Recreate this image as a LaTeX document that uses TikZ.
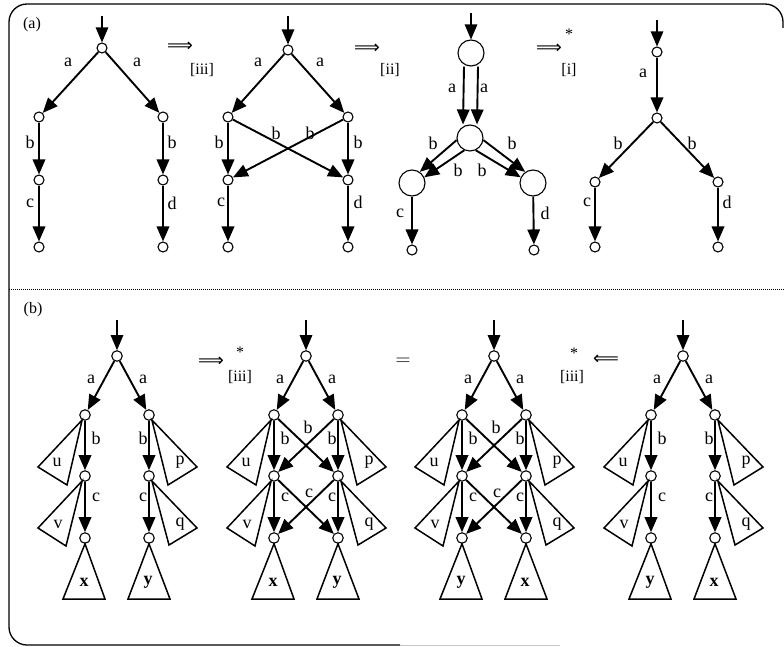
\documentclass[tikz,border=0pt]{standalone}
\usepackage{fontspec}
\setmainfont{Liberation Serif}
\newfontfamily\arrowfont{DejaVu Sans}
\usetikzlibrary{arrows.meta}

\newcommand{\mybtree}[4]{%
\begin{scope}[xshift=#2pt]
\coordinate (#1in) at (0,320);
\node[vb] (#1T) at (0,356) {};
\node[vb] (#1L1) at (-32,415) {};
\node[vb] (#1R1) at (32,415) {};
\node[vb] (#1L2) at (-32,476) {};
\node[vb] (#1R2) at (32,476) {};
\node[vb] (#1L3) at (-32,538) {};
\node[vb] (#1R3) at (32,538) {};
\draw[tri] (#1L1.240) -- (-79,467) -- (-50,485) -- cycle;
\draw[tri] (#1R1.300) -- (80,467) -- (51,485) -- cycle;
\draw[tri] (#1L2.240) -- (-79,528) -- (-51,546) -- cycle;
\draw[tri] (#1R2.300) -- (80,528) -- (52,545) -- cycle;
\draw[tri] (#1L3.south) -- (-54,599) -- (-12,599) -- cycle;
\draw[tri] (#1R3.south) -- (11,599) -- (53,599) -- cycle;
\node[lab] (#1lu) at (-60,462) {u};
\node[lab] (#1lp) at (63,462) {p};
\node[lab] (#1lv) at (-59,524) {v};
\node[lab] (#1lq) at (63,524) {q};
\node[lab] (#1lx) at (-33,582) {\textbf{#3}};
\node[lab] (#1ly) at (31,582) {\textbf{#4}};
\draw[inarr] (#1in) -- (#1T);
\draw[arr] (#1T) -- (#1L1);
\draw[arr] (#1T) -- (#1R1);
\draw[arr] (#1L1) -- (#1L2);
\draw[arr] (#1R1) -- (#1R2);
\draw[arr] (#1L2) -- (#1L3);
\draw[arr] (#1R2) -- (#1R3);
\node[lab] (#1la1) at (-26,379) {a};
\node[lab] (#1la2) at (26,379) {a};
\node[lab] (#1lb1) at (-21,438) {b};
\node[lab] (#1lb2) at (26,438) {b};
\node[lab] (#1lc1) at (-21,497) {c};
\node[lab] (#1lc2) at (26,497) {c};
\end{scope}}

\newcommand{\mybcross}[2]{%
\begin{scope}[xshift=#2pt]
\draw[arr] (#1L1) -- (#1R2);
\draw[arr] (#1R1) -- (#1L2);
\draw[arr] (#1L2) -- (#1R3);
\draw[arr] (#1R2) -- (#1L3);
\node[lab] (#1lbx) at (2,427) {b};
\node[lab] (#1lcx) at (3,493) {c};
\end{scope}}

\begin{document}
\begin{tikzpicture}[x=1pt,y=-1pt,
  every node/.style={font=\fontsize{18}{20}\selectfont},
  vert/.style={circle,draw,line width=1.1pt,minimum size=10pt,inner sep=0pt},
  vb/.style={vert,minimum size=10.5pt},
  big/.style={circle,draw,line width=1.1pt,minimum size=26pt,inner sep=0pt},
  arr/.style={line width=1.9pt,-{Triangle[length=15pt,width=12.5pt]}},
  inarr/.style={line width=1.2pt,-{Triangle[length=15pt,width=12.5pt]}},
  lab/.style={inner sep=0pt},
  sym/.style={inner sep=0pt,font=\arrowfont\fontsize{18}{20}\selectfont},
  sml/.style={inner sep=0pt,font=\fontsize{16}{18}\selectfont},
  tri/.style={draw,line width=1.5pt,line join=miter}
]
\useasboundingbox (0,0) rectangle (784,647);

% frame
\draw[line width=1.3pt, rounded corners=18pt] (783,28) -- (783,4) -- (9,4) -- (9,645) -- (400,645);
\draw[line width=1pt, gray!45] (400,645) -- (560,645);
\draw[line width=0.8pt, dash pattern=on 1pt off 1pt] (9,289) -- (784,289);
\node[sml] (tA) at (32,25) {(a)};
\node[sml] (tB) at (33,310) {(b)};

% ---------- A1
\coordinate (a1i) at (102,16);
\node[vert] (a1t) at (102,48) {};
\node[vert] (a1l1) at (39,117) {};
\node[vert] (a1r1) at (163,117) {};
\node[vert] (a1l2) at (39,180) {};
\node[vert] (a1r2) at (163,180) {};
\node[vert] (a1l3) at (39,247) {};
\node[vert] (a1r3) at (163,247) {};
\draw[inarr] (a1i) -- (a1t);
\draw[arr] (a1t) -- (a1l1);
\draw[arr] (a1t) -- (a1r1);
\draw[arr] (a1l1) -- (a1l2);
\draw[arr] (a1r1) -- (a1r2);
\draw[arr] (a1l2) -- (a1l3);
\draw[arr] (a1r2) -- (a1r3);
\node[lab] (a1la) at (68,62) {a};
\node[lab] (a1lb) at (137,62) {a};
\node[lab] (a1lc) at (30,142) {b};
\node[lab] (a1ld) at (172,142) {b};
\node[lab] (a1le) at (30,203) {c};
\node[lab] (a1lf) at (172,203) {d};

\node[sym] (s1) at (180,47) {⟹};
\node[sml] (s1l) at (202,70) {[iii]};

% ---------- A2
\coordinate (a2i) at (288,16);
\node[vert] (a2t) at (288,50) {};
\node[vert] (a2l1) at (228,117) {};
\node[vert] (a2r1) at (348,117) {};
\node[vert] (a2l2) at (228,180) {};
\node[vert] (a2r2) at (348,180) {};
\node[vert] (a2l3) at (228,247) {};
\node[vert] (a2r3) at (348,247) {};
\draw[inarr] (a2i) -- (a2t);
\draw[arr] (a2t) -- (a2l1);
\draw[arr] (a2t) -- (a2r1);
\draw[arr] (a2l1) -- (a2l2);
\draw[arr] (a2r1) -- (a2r2);
\draw[arr] (a2l1) -- (a2r2);
\draw[arr] (a2r1) -- (a2l2);
\draw[arr] (a2l2) -- (a2l3);
\draw[arr] (a2r2) -- (a2r3);
\node[lab] (a2la) at (258,62) {a};
\node[lab] (a2lb) at (320,62) {a};
\node[lab] (a2lc) at (219,142) {b};
\node[lab] (a2ld) at (276,133) {b};
\node[lab] (a2le) at (310,133) {b};
\node[lab] (a2lf) at (358,142) {b};
\node[lab] (a2lg) at (221,202) {c};
\node[lab] (a2lh) at (358,202) {d};

\node[sym] (s2) at (367,49) {⟹};
\node[sml] (s2l) at (390,70) {[ii]};

% ---------- A3
\coordinate (a3i) at (471,13);
\node[big] (a3T) at (471,53) {};
\node[big] (a3M) at (470,138) {};
\node[big] (a3BL) at (412,183) {};
\node[big] (a3BR) at (533,183) {};
\node[vert] (a3S1) at (412,250) {};
\node[vert] (a3S2) at (534,250) {};
\draw[inarr] (a3i) -- (a3T);
\draw[arr] ([xshift=-7pt]a3T.south) -- ([xshift=-7pt]a3M.north);
\draw[arr] ([xshift=7pt]a3T.south) -- ([xshift=7pt]a3M.north);
\draw[arr] (a3M.189) -- (a3BL.55);
\draw[arr] (a3M.245) -- (a3BL.25);
\draw[arr] (a3M.351) -- (a3BR.125);
\draw[arr] (a3M.295) -- (a3BR.155);
\draw[arr] (a3BL) -- (a3S1);
\draw[arr] (a3BR) -- (a3S2);
\node[lab] (a3la) at (452,88) {a};
\node[lab] (a3lb) at (484,88) {a};
\node[lab] (a3lc) at (433,143) {b};
\node[lab] (a3ld) at (458,170) {b};
\node[lab] (a3le) at (482,170) {b};
\node[lab] (a3lf) at (512,143) {b};
\node[lab] (a3lg) at (400,213) {c};
\node[lab] (a3lh) at (545,213) {d};

\node[sym] (s3) at (549,49) {⟹};
\node[sml] (s3s) at (569,34) {*};
\node[sml] (s3l) at (569,70) {[i]};

% ---------- A4
\coordinate (a4i) at (657,20);
\node[vert] (a4t) at (657,52) {};
\node[vert] (a4m) at (657,118) {};
\node[vert] (a4l) at (595,182) {};
\node[vert] (a4r) at (718,182) {};
\node[vert] (a4l3) at (595,247) {};
\node[vert] (a4r3) at (718,247) {};
\draw[inarr] (a4i) -- (a4t);
\draw[arr] (a4t) -- (a4m);
\draw[arr] (a4m) -- (a4l);
\draw[arr] (a4m) -- (a4r);
\draw[arr] (a4l) -- (a4l3);
\draw[arr] (a4r) -- (a4r3);
\node[lab] (a4la) at (643,73) {a};
\node[lab] (a4lb) at (618,143) {b};
\node[lab] (a4lc) at (692,143) {b};
\node[lab] (a4ld) at (587,202) {c};
\node[lab] (a4le) at (727,202) {d};

% ---------- part (b)
\mybtree{B1}{117}{x}{y}
\mybtree{B2}{306}{x}{y}
\mybcross{B2}{306}
\mybtree{B3}{494}{y}{x}
\mybcross{B3}{494}
\mybtree{B4}{683}{y}{x}

\node[sym] (t1) at (211,362) {⟹};
\node[sml] (t1s) at (240,352) {*};
\node[sml] (t1l) at (240,377) {[iii]};
\node[lab,font=\fontsize{22}{24}\selectfont] (t2) at (403,362) {$=$};
\node[sml] (t3s) at (574,353) {*};
\node[sym] (t3) at (606,360) {⟸};
\node[sml] (t3l) at (572,377) {[iii]};
\end{tikzpicture}
\end{document}
